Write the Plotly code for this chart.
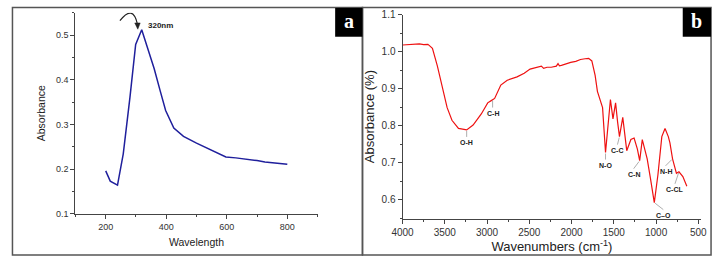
import plotly.graph_objects as go

# ---------------- Panel a: UV-Vis ----------------
uv_wavelength = [200, 215, 239, 258, 280, 299, 319, 340, 360, 380, 398, 425, 457, 500, 532, 570, 597, 630, 661, 700, 726, 760, 800]
uv_absorbance = [0.196, 0.173, 0.164, 0.234, 0.36, 0.479, 0.512, 0.47, 0.425, 0.375, 0.331, 0.292, 0.273, 0.258, 0.248, 0.236, 0.227, 0.225, 0.223, 0.219, 0.216, 0.213, 0.211]

# ---------------- Panel b: FTIR ----------------
ir_wavenumber = [4000, 3900, 3800, 3750, 3700, 3685, 3646, 3588, 3530, 3472, 3415, 3338, 3241, 3165, 3068, 2992,
                 2950, 2934, 2910, 2837, 2761, 2645, 2560, 2491, 2420, 2357, 2330, 2290, 2241, 2180, 2160, 2144,
                 2120, 2060, 2010, 1950, 1894, 1840, 1798, 1760, 1721, 1694, 1663, 1645, 1633, 1598, 1570, 1540,
                 1510, 1479, 1455, 1433, 1394, 1347, 1298, 1260, 1221, 1194, 1163, 1105, 1067, 1021, 978, 932,
                 894, 855, 836, 805, 759, 729, 683, 636]
ir_absorbance = [1.018, 1.019, 1.021, 1.019, 1.02, 1.017, 1.009, 0.962, 0.901, 0.849, 0.815, 0.793, 0.789, 0.802, 0.832, 0.862,
                 0.868, 0.871, 0.874, 0.91, 0.923, 0.932, 0.942, 0.953, 0.957, 0.961, 0.955, 0.958, 0.958, 0.961, 0.968, 0.962,
                 0.963, 0.968, 0.971, 0.974, 0.979, 0.981, 0.982, 0.975, 0.936, 0.893, 0.867, 0.858, 0.849, 0.728, 0.8, 0.871,
                 0.819, 0.862, 0.81, 0.771, 0.823, 0.733, 0.763, 0.767, 0.737, 0.706, 0.763, 0.711, 0.659, 0.593, 0.668, 0.771,
                 0.793, 0.771, 0.754, 0.711, 0.672, 0.676, 0.663, 0.637]

# peak labels: text, wavenumber, absorbance at curve
ir_labels = ["O-H", "C-H", "N-O", "C-C", "C-N", "N-H", "C-CL", "C–O"]
ir_label_x = [3241, 2934, 1598, 1433, 1194, 805, 729, 1021]
ir_label_y = [0.789, 0.871, 0.728, 0.771, 0.706, 0.711, 0.676, 0.593]

uv_ticks = [200, 400, 600, 800]
ir_ticks = [4000, 3500, 3000, 2500, 2000, 1500, 1000, 500]

W, H = 719, 262
fig = go.Figure()

fig.add_trace(go.Scatter(x=uv_wavelength, y=uv_absorbance, mode="lines",
                         line=dict(color="#1f1f9c", width=1.5), xaxis="x", yaxis="y",
                         showlegend=False))
fig.add_trace(go.Scatter(x=ir_wavenumber, y=ir_absorbance, mode="lines",
                         line=dict(color="#ee1111", width=1.2), xaxis="x2", yaxis="y2",
                         showlegend=False))

fam = "Liberation Sans, Arial"
tick_a = dict(family=fam, size=9, color="#333")
tick_b = dict(family=fam, size=10, color="#333")
title_a = dict(family=fam, size=10.5, color="#222")
title_b = dict(family=fam, size=13, color="#222")

common = dict(showgrid=False, zeroline=False, showline=True, linecolor="#444", linewidth=1,
              ticks="outside", ticklen=4, tickcolor="#444", mirror=False)

fig.update_layout(
    width=W, height=H, margin=dict(l=0, r=0, t=0, b=0),
    paper_bgcolor="white", plot_bgcolor="white",
    xaxis=dict(domain=[66 / W, 314 / W], range=[100, 900], tickvals=uv_ticks, tickfont=tick_a,
               minor=dict(ticks="outside", ticklen=2, dtick=100, tickcolor="#444"),
               anchor="y", title=dict(text="Wavelength", font=title_a, standoff=8), **common),
    yaxis=dict(domain=[(H - 217) / H, (H - 8) / H], range=[0.1, 0.55], dtick=0.1, tickformat=".1f", tickfont=tick_a,
               minor=dict(ticks="outside", ticklen=2, dtick=0.05, tickcolor="#444"),
               anchor="x", title=dict(text="Absorbance", font=title_a, standoff=8), **common),
    xaxis2=dict(domain=[401 / W, 707 / W], range=[4000, 465], tickvals=ir_ticks, tickfont=tick_b,
                minor=dict(ticks="outside", ticklen=2, dtick=250, tickcolor="#444"),
                anchor="y2", title=dict(text="Wavenumbers (cm<sup>-1</sup>)", font=title_b, standoff=5), **common),
    yaxis2=dict(domain=[(H - 222) / H, (H - 10) / H], range=[0.55, 1.1], dtick=0.1, tickformat=".1f", tickfont=tick_b,
                minor=dict(ticks="outside", ticklen=2, dtick=0.05, tickcolor="#444"),
                anchor="x2", title=dict(text="Absorbance (%)", font=title_b, standoff=4), **common),
)

# panel borders
def px_rect(x0, y0, x1, y1, **kw):
    fig.add_shape(type="rect", xref="paper", yref="paper",
                  x0=x0 / W, x1=x1 / W, y0=1 - y1 / H, y1=1 - y0 / H, **kw)

px_rect(1.5, 2.5, 360, 260, line=dict(color="#555", width=1.5))
px_rect(360, 2.5, 717, 260, line=dict(color="#555", width=1.5))
px_rect(332, 3, 360, 33, line=dict(width=0), fillcolor="black")
px_rect(688, 3, 717, 33, line=dict(width=0), fillcolor="black")

for txt, cx in [("a", 346), ("b", 702.5)]:
    fig.add_annotation(xref="paper", yref="paper", x=cx / W, y=1 - 17 / H, text="<b>%s</b>" % txt,
                       xanchor="center", yanchor="middle", showarrow=False,
                       font=dict(family="Liberation Serif, Times New Roman", size=20, color="white"))

# 320nm annotation with curved arrow
peak_i = uv_absorbance.index(max(uv_absorbance))
fig.add_annotation(xref="x", yref="y", x=uv_wavelength[peak_i], y=uv_absorbance[peak_i],
                   text="<b>320nm</b>", showarrow=False, xanchor="left", yanchor="bottom", xshift=4, yshift=-2,
                   font=dict(family=fam, size=8, color="#222"))
fig.add_shape(type="path", xref="x", yref="y", path="M 247,0.532 Q 290,0.57 305,0.524",
              line=dict(color="#222", width=1.2))
fig.add_shape(type="path", xref="x", yref="y", path="M 296,0.527 L 314,0.527 L 306,0.513 Z",
              line=dict(color="#222", width=0.5), fillcolor="#222")

# FTIR peak labels (text offset from the marked point, px)
offsets = {"O-H": (0, 7), "C-H": (0, 8), "N-O": (0, 7), "C-C": (-2, 8), "C-N": (-6, 8),
           "N-H": (-7, 7), "C-CL": (-4, 12), "C–O": (9, 7)}
for t, x, y in zip(ir_labels, ir_label_x, ir_label_y):
    ox, oy = offsets[t]
    fig.add_annotation(xref="x2", yref="y2", x=x, y=y, ax=ox, ay=oy, text="<b>%s</b>" % t,
                       showarrow=True, arrowhead=0, arrowwidth=0.8, arrowcolor="#999",
                       yanchor="top", standoff=1,
                       font=dict(family=fam, size=7, color="#222"))

fig.write_html("out.html", config={"displayModeBar": False},
               post_script="document.body.style.margin='0';document.body.style.overflow='hidden';")
